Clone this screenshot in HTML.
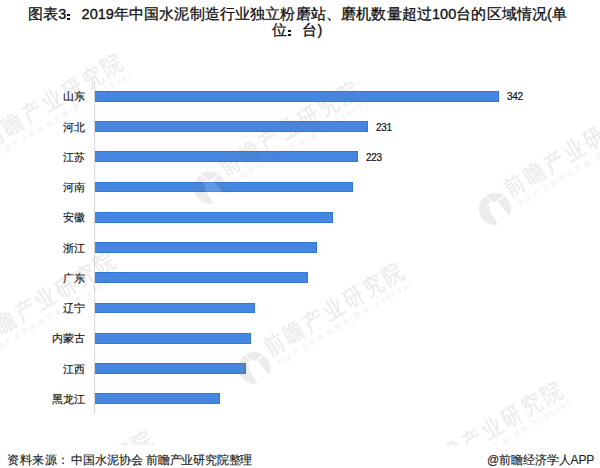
<!DOCTYPE html>
<html><head><meta charset="utf-8">
<style>
html,body{margin:0;padding:0;background:#fff;}
body{width:600px;height:468px;overflow:hidden;position:relative;font-family:"Liberation Sans",sans-serif;color:#000;}
.wm{position:absolute;left:0;top:0;width:600px;height:445px;}
.tl{position:absolute;white-space:nowrap;font-size:15px;letter-spacing:0.15px;line-height:17px;color:#111;-webkit-text-stroke:0.3px #111;}
.tl b{font-size:14.5px;letter-spacing:0;-webkit-text-stroke:0.35px #111;font-weight:normal;}
.tl i{font-style:normal;display:inline-block;width:15.2px;height:10px;position:relative;}
.tl i:before,.tl i:after{content:"";position:absolute;left:1px;width:3px;height:2px;background:#111;}
.tl i:before{top:5px}.tl i:after{top:8.5px}
.axis{position:absolute;left:94px;top:81px;width:1px;height:333px;background:#d9d9d9;}
.bar{position:absolute;left:95px;height:8.8px;background:#4486e0;border-top:1px solid #3176da;border-bottom:1px solid #3176da;border-right:1px solid #3176da;box-sizing:content-box;}
.lab{position:absolute;right:515px;font-size:11px;line-height:12px;white-space:nowrap;color:#111;-webkit-text-stroke:0.15px #111;}
.val{position:absolute;font-size:10px;line-height:12px;color:#111;letter-spacing:-0.3px;-webkit-text-stroke:0.2px #111;}
.foot{position:absolute;top:452px;font-size:12px;line-height:16px;color:#222;white-space:nowrap;-webkit-text-stroke:0.15px #222;}
</style></head><body>


<div class="tl" style="left:28px;top:5px">图表<b>3</b><i></i><b>2019</b>年中国水泥制造行业独立粉磨站、磨机数量超过<b>100</b>台的区域情况<b>(</b>单</div>
<div class="tl" style="left:272px;top:21px">位<i></i>台<b>)</b></div>
<div class="axis"></div>

<div class="bar" style="top:90.90px;width:402.9px"></div>
<div class="bar" style="top:121.14px;width:272.0px"></div>
<div class="bar" style="top:151.38px;width:262.0px"></div>
<div class="bar" style="top:181.62px;width:256.5px"></div>
<div class="bar" style="top:211.86px;width:237.3px"></div>
<div class="bar" style="top:242.10px;width:220.8px"></div>
<div class="bar" style="top:272.34px;width:212.0px"></div>
<div class="bar" style="top:302.58px;width:159.3px"></div>
<div class="bar" style="top:332.82px;width:154.9px"></div>
<div class="bar" style="top:363.06px;width:150.2px"></div>
<div class="bar" style="top:393.30px;width:123.7px"></div>

<div class="lab" style="top:90.40px">山东</div>
<div class="lab" style="top:120.64px">河北</div>
<div class="lab" style="top:150.88px">江苏</div>
<div class="lab" style="top:181.12px">河南</div>
<div class="lab" style="top:211.36px">安徽</div>
<div class="lab" style="top:241.60px">浙江</div>
<div class="lab" style="top:271.84px">广东</div>
<div class="lab" style="top:302.08px">辽宁</div>
<div class="lab" style="top:332.32px">内蒙古</div>
<div class="lab" style="top:362.56px">江西</div>
<div class="lab" style="top:392.80px">黑龙江</div>

<div class="val" style="left:507px;top:91px">342</div>
<div class="val" style="left:376px;top:121.5px">231</div>
<div class="val" style="left:366px;top:151.5px">223</div>

<svg class="wm" width="600" height="443" viewBox="0 0 600 443">
<defs>
<g id="w">
<circle cx="0" cy="0" r="16" fill="#7d7d90"/>
<path d="M-10.5,-13 L-1.5,-6.5 M9,-13.5 L1.5,-6.5" stroke="#fff" stroke-width="1.5" fill="none"/>
<polygon points="-8,-5.5 -1.5,-7.5 2.5,-7.5 16,8 17,17 4,17 -5,2.5 -5.5,-3" fill="#fff"/>
<g transform="rotate(-30.7)">
<text transform="scale(0.85,1)" x="22.5" y="-2.5" font-size="23" fill="#7d7d90" stroke="#7d7d90" stroke-width="0.5" textLength="185" lengthAdjust="spacing" font-family="Liberation Sans">前瞻产业研究院</text>
<text x="22" y="10" font-size="7" fill="#7d7d90" textLength="155" lengthAdjust="spacing" font-family="Liberation Sans">中国产业咨询领导者(股票:839599)</text>
</g>
</g>
</defs>
<g opacity="0.15">
<use href="#w" x="-26.5" y="158.5"/>
<use href="#w" x="210" y="186.5"/>
<use href="#w" x="495" y="208"/>
<use href="#w" x="-33.5" y="356.5"/>
<use href="#w" x="254.5" y="367"/>
<use href="#w" x="413" y="486"/>
<use href="#w" x="4" y="535"/>
</g>
</svg>
<div class="foot" style="left:7px;letter-spacing:0.5px">资料来源：</div>
<div class="foot" style="left:71px">中国水泥协会</div>
<div class="foot" style="left:146px;letter-spacing:-0.2px">前瞻产业研究院整理</div>
<div class="foot" style="left:487px;letter-spacing:-0.1px">@前瞻经济学人APP</div>
</body></html>
